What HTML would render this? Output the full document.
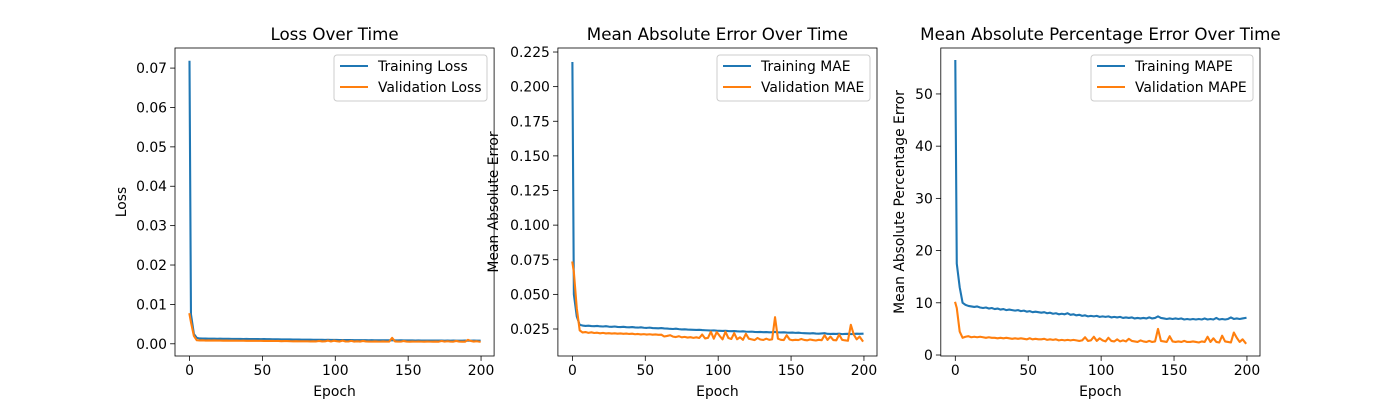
<!DOCTYPE html>
<html><head><meta charset="utf-8"><style>
body{margin:0;background:#fff}
svg{display:block}
text{font-family:"DejaVu Sans","Liberation Sans",sans-serif;fill:#000}
</style></head><body>
<svg id="fig" width="1400" height="400" viewBox="0 0 1400 400" xmlns="http://www.w3.org/2000/svg"></svg>
<script>
const epochs=[0];for(let e=1;e<200;e+=2)epochs.push(e);
const lossTrain=[0.0716,0.0075,0.0025,0.0015,0.00135,0.00132,0.00134,0.00130,0.00131,0.00129,
0.00128,0.00129,0.00127,0.00126,0.00127,0.00125,0.00124,0.00125,0.00123,0.00122,
0.00123,0.00121,0.00120,0.00121,0.00119,0.00118,0.00119,0.00117,0.00116,0.00115,
0.00114,0.00115,0.00112,0.00111,0.00110,0.00111,0.00108,0.00107,0.00108,0.00105,
0.00104,0.00105,0.00103,0.00102,0.00101,0.00102,0.00100,0.00099,0.00100,0.00098,
0.00097,0.00098,0.00096,0.00095,0.00096,0.00094,0.00095,0.00093,0.00092,0.00093,
0.00091,0.00092,0.00090,0.00091,0.00089,0.00090,0.00088,0.00089,0.00087,0.00088,
0.00090,0.00087,0.00086,0.00087,0.00085,0.00086,0.00084,0.00085,0.00083,0.00084,
0.00083,0.00082,0.00083,0.00082,0.00081,0.00082,0.00081,0.00083,0.00080,0.00081,
0.00080,0.00081,0.00080,0.00079,0.00080,0.00081,0.00079,0.00080,0.00081,0.00080,0.00080];
const lossVal=[0.0075,0.0055,0.0020,0.0009,0.00085,0.00088,0.00083,0.00086,0.00082,0.00084,
0.00081,0.00083,0.00080,0.00081,0.00079,0.00080,0.00078,0.00079,0.00077,0.00078,
0.00076,0.00077,0.00075,0.00076,0.00074,0.00075,0.00073,0.00074,0.00072,0.00073,
0.00071,0.00072,0.00066,0.00068,0.00070,0.00065,0.00064,0.00067,0.00063,0.00064,
0.00062,0.00064,0.00061,0.00063,0.00061,0.00072,0.00060,0.00062,0.00080,0.00059,
0.00078,0.00066,0.00057,0.00080,0.00060,0.00058,0.00075,0.00057,0.00062,0.00056,
0.00072,0.00059,0.00057,0.00055,0.00060,0.00056,0.00055,0.00059,0.00055,0.00057,
0.00150,0.00059,0.00056,0.00055,0.00070,0.00057,0.00054,0.00056,0.00055,0.00058,
0.00055,0.00054,0.00057,0.00055,0.00053,0.00056,0.00054,0.00070,0.00055,0.00065,
0.00055,0.00054,0.00072,0.00056,0.00054,0.00053,0.00100,0.00072,0.00057,0.00065,0.00053];
const maeTrain=[0.217,0.050,0.034,0.028,0.0275,0.0272,0.0274,0.0271,0.0270,0.0272,
0.0269,0.0268,0.0270,0.0267,0.0266,0.0268,0.0265,0.0264,0.0266,0.0263,
0.0262,0.0264,0.0261,0.0260,0.0262,0.0259,0.0258,0.0260,0.0257,0.0256,
0.0255,0.0257,0.0254,0.0253,0.0251,0.0250,0.0252,0.0249,0.0247,0.0248,
0.0246,0.0245,0.0244,0.0243,0.0244,0.0242,0.0241,0.0240,0.0239,0.0240,
0.0238,0.0237,0.0236,0.0237,0.0235,0.0234,0.0235,0.0233,0.0232,0.0233,
0.0231,0.0230,0.0231,0.0229,0.0228,0.0229,0.0227,0.0228,0.0226,0.0227,
0.0229,0.0226,0.0225,0.0226,0.0224,0.0223,0.0224,0.0222,0.0223,0.0221,
0.0220,0.0219,0.0218,0.0220,0.0217,0.0216,0.0218,0.0220,0.0215,0.0214,
0.0215,0.0214,0.0216,0.0213,0.0214,0.0215,0.0213,0.0214,0.0216,0.0215,0.0216];
const maeVal=[0.073,0.066,0.040,0.024,0.0225,0.0228,0.0222,0.0226,0.0221,0.0223,
0.0219,0.0222,0.0218,0.0220,0.0217,0.0219,0.0216,0.0218,0.0215,0.0217,
0.0214,0.0216,0.0212,0.0214,0.0211,0.0213,0.0210,0.0212,0.0209,0.0211,
0.0208,0.0209,0.0196,0.0200,0.0205,0.0195,0.0192,0.0198,0.0190,0.0193,
0.0188,0.0191,0.0186,0.0190,0.0185,0.0210,0.0182,0.0186,0.0230,0.0180,
0.0228,0.0200,0.0175,0.0230,0.0185,0.0178,0.0220,0.0176,0.0190,0.0172,
0.0215,0.0180,0.0175,0.0170,0.0185,0.0174,0.0171,0.0180,0.0172,0.0175,
0.0335,0.0180,0.0172,0.0170,0.0205,0.0174,0.0169,0.0172,0.0170,0.0178,
0.0171,0.0168,0.0174,0.0170,0.0167,0.0172,0.0169,0.0205,0.0171,0.0195,
0.0170,0.0168,0.0210,0.0172,0.0168,0.0165,0.0280,0.0210,0.0175,0.0195,0.0165];
const mapeTrain=[56.3,17.5,13.0,10.0,9.6,9.4,9.3,9.2,9.3,9.1,9.0,9.1,8.9,9.0,8.8,8.9,8.7,8.8,8.6,8.7,
8.6,8.5,8.6,8.4,8.5,8.3,8.4,8.2,8.3,8.2,8.1,8.2,8.0,8.1,7.9,8.0,7.8,7.9,7.8,8.0,
7.7,7.8,7.6,7.7,7.5,7.6,7.4,7.5,7.4,7.5,7.3,7.4,7.3,7.4,7.2,7.3,7.2,7.3,7.1,7.2,
7.1,7.2,7.0,7.1,7.0,7.1,7.0,7.2,7.0,7.1,7.4,7.1,7.0,6.9,7.0,6.9,7.0,6.9,7.0,6.8,
6.9,6.8,6.9,6.8,6.9,6.8,7.0,6.8,6.9,6.8,7.1,6.8,6.9,6.8,6.9,7.2,6.9,7.0,6.9,7.0,7.1];
const mapeVal=[10.0,9.0,4.5,3.3,3.5,3.6,3.4,3.5,3.4,3.5,3.4,3.3,3.4,3.3,3.3,3.2,3.3,3.2,3.3,3.2,
3.1,3.2,3.1,3.2,3.1,3.0,3.2,3.0,3.1,3.0,3.0,3.1,2.9,3.0,2.9,3.0,2.8,2.9,2.8,2.9,
2.8,2.9,2.8,2.7,2.8,3.4,2.7,2.8,3.5,2.7,3.2,2.8,2.6,3.3,2.7,2.6,3.0,2.6,2.8,2.6,
3.1,2.7,2.6,2.5,2.8,2.6,2.5,2.7,2.5,2.6,5.0,2.7,2.6,2.5,3.6,2.6,2.5,2.6,2.5,2.7,
2.5,2.5,2.6,2.5,2.4,2.6,2.5,3.5,2.5,3.2,2.5,2.4,3.7,2.6,2.5,2.4,4.3,3.3,2.5,3.0,2.3];
const xTicks=[0,50,100,150,200];
const lossTicks=[0,0.01,0.02,0.03,0.04,0.05,0.06,0.07];
const maeTicks=[0.025,0.05,0.075,0.1,0.125,0.15,0.175,0.2,0.225];
const mapeTicks=[0,10,20,30,40,50];

const NS="http://www.w3.org/2000/svg";
const fig=document.getElementById('fig');
function mk(tag,attrs,parent){const e=document.createElementNS(NS,tag);for(const k in attrs)e.setAttribute(k,attrs[k]);(parent||fig).appendChild(e);return e;}
const BLUE="#1f77b4",ORANGE="#ff7f0e";
const T=48,B=356;
function panel(key,L,R,ymin,ymax,yTicks,dec,title,ylabel,ylabX,tr,va,names,legX,legW){
  const g=mk('g',{});
  
  
  const xs=v=>L+(v+9.95)/218.9*(R-L);
  const ys=v=>B-(v-ymin)/(ymax-ymin)*(B-T);
  [[tr,BLUE,names[0]],[va,ORANGE,names[1]]].forEach(([arr,c,n])=>{
    const p=mk('polyline',{points:arr.map((v,i)=>xs(epochs[i]).toFixed(2)+','+ys(v).toFixed(2)).join(' '),fill:'none',stroke:c,'stroke-width':2.1,'stroke-linejoin':'round','stroke-linecap':'square'},g);
    
    
  });
  xTicks.forEach(t=>{const x=xs(t);
    mk('line',{x1:x,x2:x,y1:B,y2:B+4.9,stroke:'#000','stroke-width':0.8},g);
    const tx=mk('text',{x:x,y:B+19,'text-anchor':'middle','font-size':'13.9px'},g);tx.textContent=t;
    
    
  });
  yTicks.forEach(t=>{const y=ys(t);
    mk('line',{x1:L-4.9,x2:L,y1:y,y2:y,stroke:'#000','stroke-width':0.8},g);
    const tx=mk('text',{x:L-8,y:y+5,'text-anchor':'end','font-size':'13.9px'},g);tx.textContent=t.toFixed(dec);
    
    
  });
  const fr=mk('rect',{x:L,y:T,width:R-L,height:B-T,fill:'none',stroke:'#000','stroke-width':0.8},g);
  
  
  const ti=mk('text',{x:(L+R)/2,y:40,'text-anchor':'middle','font-size':'16.7px'},g);ti.textContent=title;
  
  
  const xl=mk('text',{x:(L+R)/2,y:396,'text-anchor':'middle','font-size':'13.9px'},g);xl.textContent='Epoch';
  
  
  const yl=mk('text',{x:0,y:0,'text-anchor':'middle','font-size':'13.9px',transform:`translate(${ylabX},${(T+B)/2}) rotate(-90)`},g);yl.textContent=ylabel;
  
  
  const lg=mk('g',{},g);
  
  
  mk('rect',{x:legX,y:55,width:legW,height:46,rx:3,fill:'#fff','fill-opacity':0.8,stroke:'#ccc','stroke-width':1},lg);
  [[BLUE,names[0],66],[ORANGE,names[1],87]].forEach(([c,n,y])=>{
    const en=mk('g',{},lg);
    
    
    mk('line',{x1:legX+6,x2:legX+34,y1:y,y2:y,stroke:c,'stroke-width':2.1},en);
    const t=mk('text',{x:legX+44,y:y+5,'font-size':'13.9px'},en);t.textContent=n;
  });
}
panel('loss',175,494.1,-0.0031,0.0751,lossTicks,2,'Loss Over Time','Loss',126,lossTrain,lossVal,['Training Loss','Validation Loss'],334,153);
panel('mae',557.9,877,0.0055,0.2279,maeTicks,3,'Mean Absolute Error Over Time','Mean Absolute Error',498,maeTrain,maeVal,['Training MAE','Validation MAE'],717,153);
panel('mape',940.8,1260,-0.19,58.8,mapeTicks,0,'Mean Absolute Percentage Error Over Time','Mean Absolute Percentage Error',904,mapeTrain,mapeVal,['Training MAPE','Validation MAPE'],1091,162);
</script>
</body></html>
